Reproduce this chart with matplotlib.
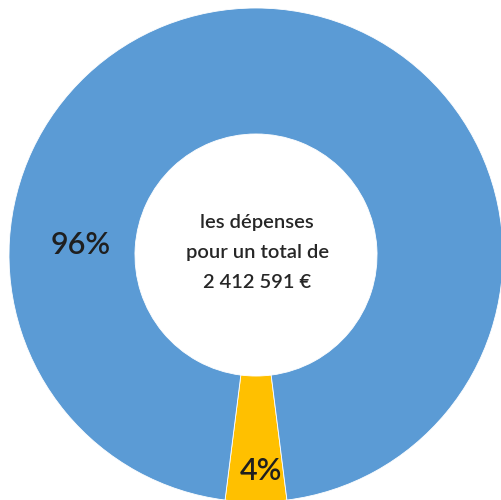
import matplotlib.pyplot as plt

# parts of the spending (percent)
categories = ["autres", "principal"]
values = [4, 96]
colors = ["#FFC000", "#5B9BD5"]
total_text = "les dépenses\npour un total de\n2 412 591 €"

plt.rcParams['font.family'] = ['Lato', 'DejaVu Sans']

fig = plt.figure(figsize=(5.02, 5.0), dpi=100)
# circle spans about 9..503 px horizontally and 8..502 px vertically
ax = fig.add_axes([9 / 502, -2 / 500, 494 / 502, 494 / 500])

start = 270 - values[0] / sum(values) * 360 / 2
wedges, _ = ax.pie(values, colors=colors, startangle=start, radius=1,
                   wedgeprops=dict(width=0.51, edgecolor='white', linewidth=0.6))
ax.set_xlim(-1, 1)
ax.set_ylim(-1, 1)
ax.set_aspect('equal')
ax.axis('off')

# percent labels
ax.text(-0.71, 0.04, f"{values[1]}%", ha='center', va='center',
        fontsize=22, fontweight='semibold', color='#1f1f1f')
ax.text(0.02, -0.875, f"{values[0]}%", ha='center', va='center',
        fontsize=22, fontweight='semibold', color='#1f1f1f')

ax.text(0.005, 0.01, total_text, ha='center', va='center', fontsize=14.5,
        fontweight='semibold', color='#262626', linespacing=1.9)

fig.savefig("out.png", dpi=100)
